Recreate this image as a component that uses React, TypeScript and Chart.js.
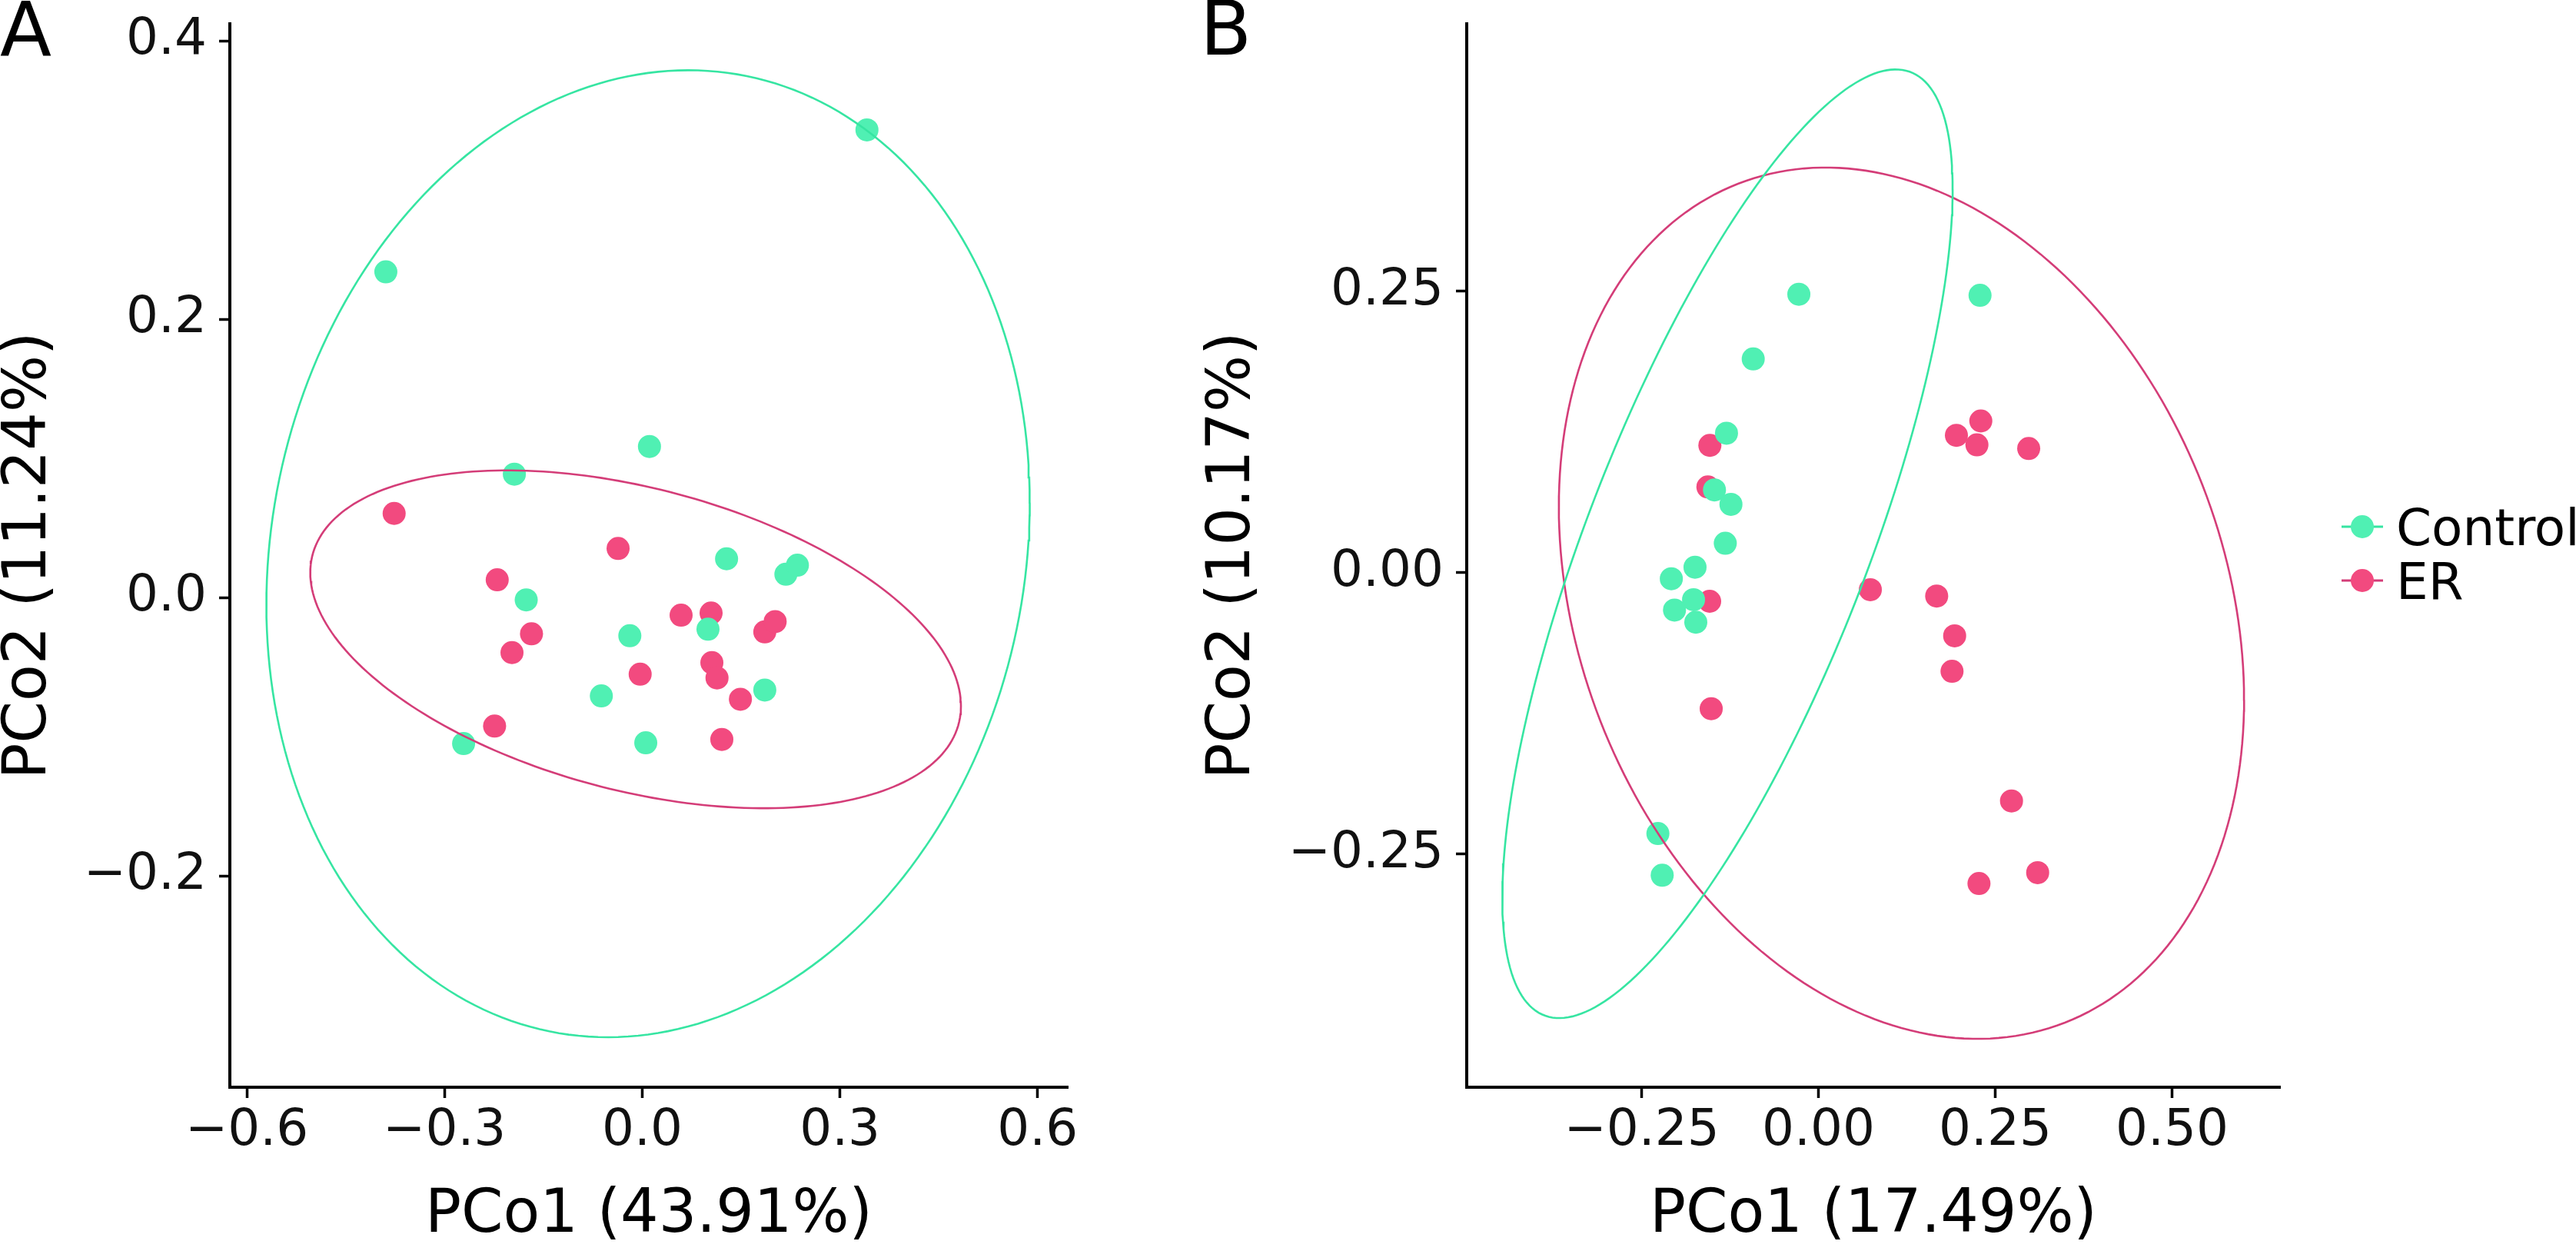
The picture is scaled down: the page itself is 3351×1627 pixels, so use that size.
import React, { useEffect, useRef } from "react";
import { Chart, registerables } from "chart.js";

Chart.register(...registerables);

// ---------- Data ----------
const GROUPS = ["Control", "ER"];

// Panel A  (PCo1 43.91%, PCo2 11.24%)
const A_CONTROL_X = [0.341, -0.389, -0.194, 0.011, -0.176, -0.062, -0.271, 0.128, 0.218, 0.2355, 0.0998, -0.0188, 0.186, 0.0054];
const A_CONTROL_Y = [0.336, 0.234, 0.0886, 0.1085, -0.0017, -0.0707, -0.105, 0.0278, 0.0167, 0.0232, -0.0228, -0.0275, -0.0665, -0.1044];
const A_ER_X = [-0.3764, -0.0366, -0.22, -0.168, -0.1976, -0.224, 0.059, 0.1045, 0.186, 0.2017, -0.0031, 0.1057, 0.1135, 0.149, 0.1208];
const A_ER_Y = [0.0604, 0.0352, 0.0127, -0.0261, -0.0396, -0.0924, -0.0127, -0.0112, -0.0247, -0.0173, -0.0551, -0.0468, -0.0578, -0.0731, -0.102];

// Panel B  (PCo1 17.49%, PCo2 10.17%)
const B_CONTROL_X = [-0.0277, 0.2285, -0.0922, -0.13, -0.147, -0.1237, -0.1317, -0.1745, -0.208, -0.1766, -0.2035, -0.1734, -0.227, -0.2209];
const B_CONTROL_Y = [0.2475, 0.2465, 0.19, 0.124, 0.0736, 0.0608, 0.0262, 0.005, -0.0053, -0.0239, -0.0331, -0.0439, -0.2316, -0.2687];
const B_ER_X = [-0.1535, -0.1563, -0.1538, -0.1516, 0.2296, 0.1951, 0.2241, 0.2973, 0.0734, 0.1672, 0.1926, 0.1889, 0.273, 0.31, 0.227];
const B_ER_Y = [0.1132, 0.0763, -0.0253, -0.1207, 0.1349, 0.1221, 0.1137, 0.1104, -0.015, -0.0206, -0.056, -0.0875, -0.2027, -0.2664, -0.276];

// 95% ellipses: [centerX, centerY, varX, varY, covXY]
const A_CONTROL_ELLIPSE = [0.00887, 0.03144, 0.33541, 0.12069, 0.021267];
const A_ER_ELLIPSE = [-0.01003, -0.03006, 0.24368, 0.014733, -0.023645];
const B_CONTROL_ELLIPSE = [-0.1286, 0.0258, 0.10136, 0.17756, 0.10023];
const B_ER_ELLIPSE = [0.1174, -0.027, 0.2347, 0.14979, -0.041578];

// Axes
const A_X_TICKS = [-0.6, -0.3, 0, 0.3, 0.6];
const A_Y_TICKS = [-0.2, 0, 0.2, 0.4];
const B_X_TICKS = [-0.25, 0, 0.25, 0.5];
const B_Y_TICKS = [-0.25, 0, 0.25];
const A_X_RANGE = [-0.6257, 0.6457];
const A_Y_RANGE = [-0.3519, 0.4122];
const B_X_RANGE = [-0.4973, 0.6527];
const B_Y_RANGE = [-0.457, 0.4877];
const A_TITLES = ["PCo1 (43.91%)", "PCo2 (11.24%)"];
const B_TITLES = ["PCo1 (17.49%)", "PCo2 (10.17%)"];

// ---------- Styling ----------
const FONT = '"DejaVu Sans", Verdana, sans-serif';
const POINT_COLORS = ["#50F0B3", "#F24A7F"];
const LINE_COLORS = ["#36E5A2", "#D43D78"];

const toPts = (xs: number[], ys: number[]) => xs.map((x, i) => ({ x, y: ys[i] }));

function ellipseOutline(e: number[]) {
  const [cx, cy, sxx, syy, sxy] = e;
  const l11 = Math.sqrt(sxx);
  const l21 = sxy / l11;
  const l22 = Math.sqrt(syy - l21 * l21);
  const pts: { x: number; y: number }[] = [];
  const n = 240;
  for (let i = 0; i <= n; i++) {
    const t = (i / n) * Math.PI * 2;
    const c = Math.cos(t);
    const s = Math.sin(t);
    pts.push({ x: cx + l11 * c, y: cy + l21 * c + l22 * s });
  }
  return pts;
}

const fmt = (v: number, d: number) => (v < 0 ? "\u2212" : "") + Math.abs(v).toFixed(d);

const panelLabelPlugin = {
  id: "panelLabel",
  afterDraw(chart: any, _args: any, opts: any) {
    const ctx = chart.ctx;
    ctx.save();
    ctx.fillStyle = "#000";
    ctx.font = `${opts.size}px ${FONT}`;
    ctx.textAlign = "left";
    ctx.textBaseline = "alphabetic";
    ctx.fillText(opts.text, opts.x, opts.y);
    ctx.restore();
  },
};

const keyLegendPlugin = {
  id: "keyLegend",
  afterDraw(chart: any, _args: any, opts: any) {
    if (!opts || !opts.show) return;
    const ctx = chart.ctx;
    ctx.save();
    GROUPS.forEach((g, i) => {
      const cy = opts.y + i * opts.gap;
      ctx.strokeStyle = LINE_COLORS[i];
      ctx.lineWidth = 3;
      ctx.beginPath();
      ctx.moveTo(opts.x - 27, cy);
      ctx.lineTo(opts.x + 27, cy);
      ctx.stroke();
      ctx.fillStyle = POINT_COLORS[i];
      ctx.beginPath();
      ctx.arc(opts.x, cy, 15, 0, Math.PI * 2);
      ctx.fill();
      ctx.fillStyle = "#000";
      ctx.font = `${opts.size}px ${FONT}`;
      ctx.textAlign = "left";
      ctx.textBaseline = "alphabetic";
      ctx.fillText(g, opts.textX, cy + 24);
    });
    ctx.restore();
  },
};

function makeConfig(p: any) {
  const axisCommon = (ticks: number[], decimals: number) => ({
    type: "linear",
    afterBuildTicks: (s: any) => {
      s.ticks = ticks.map((v) => ({ value: v }));
    },
    grid: {
      display: true,
      drawOnChartArea: false,
      drawTicks: true,
      tickLength: 14,
      tickWidth: 3.5,
      tickColor: "#000",
    },
    border: { display: true, color: "#000", width: 4 },
    ticks: {
      color: "#111",
      font: { family: FONT, size: 66 },
      maxRotation: 0,
      autoSkip: false,
      callback: (v: any) => fmt(Number(v), decimals),
    },
  });
  const xAxis: any = axisCommon(p.xTicks, p.decimals);
  xAxis.min = p.xRange[0];
  xAxis.max = p.xRange[1];
  xAxis.position = "bottom";
  xAxis.afterFit = (s: any) => {
    s.height = 213;
    s.paddingLeft = 0;
    s.paddingRight = 0;
    s.paddingTop = 0;
    s.paddingBottom = 0;
  };
  xAxis.ticks.padding = 4;
  xAxis.title = {
    display: true,
    text: p.titles[0],
    color: "#000",
    font: { family: FONT, size: 78, lineHeight: 1 },
    padding: { top: 0, bottom: 6 },
  };
  const yAxis: any = axisCommon(p.yTicks, p.decimals);
  yAxis.min = p.yRange[0];
  yAxis.max = p.yRange[1];
  yAxis.position = "left";
  yAxis.afterFit = (s: any) => {
    s.width = p.yAxisWidth;
    s.paddingLeft = 0;
    s.paddingRight = 0;
    s.paddingTop = 0;
    s.paddingBottom = 0;
  };
  yAxis.ticks.padding = 16;
  yAxis.title = {
    display: true,
    text: p.titles[1],
    color: "#000",
    font: { family: FONT, size: 78, lineHeight: 1 },
    padding: { top: p.yTitlePad, bottom: 0 },
  };

  return {
    type: "scatter",
    data: {
      datasets: [
        {
          label: GROUPS[0] + " ellipse",
          data: ellipseOutline(p.ellipses[0]),
          showLine: true,
          pointRadius: 0,
          borderColor: LINE_COLORS[0],
          borderWidth: 2.6,
          fill: false,
          tension: 0,
          order: 0,
        },
        {
          label: GROUPS[1] + " ellipse",
          data: ellipseOutline(p.ellipses[1]),
          showLine: true,
          pointRadius: 0,
          borderColor: LINE_COLORS[1],
          borderWidth: 2.6,
          fill: false,
          tension: 0,
          order: 0,
        },
        {
          label: GROUPS[0],
          data: p.control,
          pointRadius: 15,
          pointBorderWidth: 0,
          pointBackgroundColor: POINT_COLORS[0],
          backgroundColor: POINT_COLORS[0],
          order: 1,
        },
        {
          label: GROUPS[1],
          data: p.er,
          pointRadius: 15,
          pointBorderWidth: 0,
          pointBackgroundColor: POINT_COLORS[1],
          backgroundColor: POINT_COLORS[1],
          order: 2,
        },
      ],
    },
    options: {
      responsive: false,
      animation: false,
      devicePixelRatio: 1,
      events: [],
      layout: { padding: { left: 0, right: p.padRight, top: 31, bottom: 0 } },
      scales: { x: xAxis, y: yAxis },
      plugins: {
        legend: { display: false },
        tooltip: { enabled: false },
        panelLabel: p.label,
        keyLegend: p.legend,
      },
    },
    plugins: [panelLabelPlugin, keyLegendPlugin],
  };
}

const A_WIDTH = 1460;
const B_LEFT = 1460;
const B_WIDTH = 3351 - 1460;
const HEIGHT = 1627;

export default function App() {
  const refA = useRef<HTMLCanvasElement>(null);
  const refB = useRef<HTMLCanvasElement>(null);

  useEffect(() => {
    const chartA = new Chart(
      refA.current as HTMLCanvasElement,
      makeConfig({
        xTicks: A_X_TICKS,
        yTicks: A_Y_TICKS,
        xRange: A_X_RANGE,
        yRange: A_Y_RANGE,
        decimals: 1,
        titles: A_TITLES,
        yAxisWidth: 299,
        yTitlePad: 0,
        padRight: A_WIDTH - 1389,
        ellipses: [A_CONTROL_ELLIPSE, A_ER_ELLIPSE],
        control: toPts(A_CONTROL_X, A_CONTROL_Y),
        er: toPts(A_ER_X, A_ER_Y),
        label: { text: "A", x: 0, y: 72, size: 98 },
        legend: { show: false },
      }) as any
    );
    const chartB = new Chart(
      refB.current as HTMLCanvasElement,
      makeConfig({
        xTicks: B_X_TICKS,
        yTicks: B_Y_TICKS,
        xRange: B_X_RANGE,
        yRange: B_Y_RANGE,
        decimals: 2,
        titles: B_TITLES,
        yAxisWidth: 1908 - B_LEFT,
        yTitlePad: 106,
        padRight: B_WIDTH - (2966 - B_LEFT),
        ellipses: [B_CONTROL_ELLIPSE, B_ER_ELLIPSE],
        control: toPts(B_CONTROL_X, B_CONTROL_Y),
        er: toPts(B_ER_X, B_ER_Y),
        label: { text: "B", x: 1561 - B_LEFT, y: 71, size: 98 },
        legend: { show: true, x: 3073 - B_LEFT, y: 685, gap: 70, textX: 3117 - B_LEFT, size: 66 },
      }) as any
    );
    return () => {
      chartA.destroy();
      chartB.destroy();
    };
  }, []);

  return (
    <div
      style={{
        position: "absolute",
        left: 0,
        top: 0,
        width: 3351,
        height: HEIGHT,
        background: "#ffffff",
        overflow: "hidden",
      }}
    >
      <canvas
        ref={refA}
        width={A_WIDTH}
        height={HEIGHT}
        style={{ position: "absolute", left: 0, top: 0, width: A_WIDTH, height: HEIGHT }}
      />
      <canvas
        ref={refB}
        width={B_WIDTH}
        height={HEIGHT}
        style={{ position: "absolute", left: B_LEFT, top: 0, width: B_WIDTH, height: HEIGHT }}
      />
    </div>
  );
}
